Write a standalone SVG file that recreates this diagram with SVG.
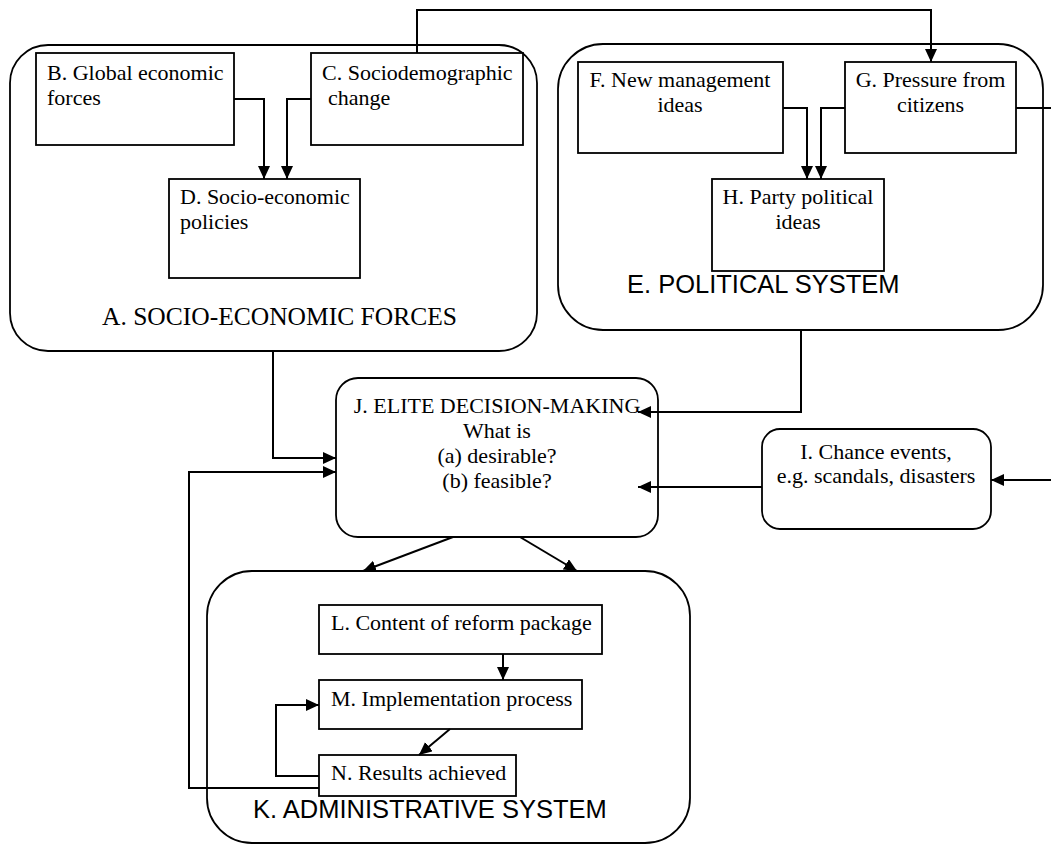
<svg xmlns="http://www.w3.org/2000/svg" width="1051" height="845" viewBox="0 0 1051 845">
<style>
.box{fill:#fff;stroke:#000;stroke-width:1.8}
.t{font-family:"Liberation Serif","Times New Roman",serif;font-size:22px;fill:#000}
.c{text-anchor:middle}
.lbl{font-family:"Liberation Sans",Arial,sans-serif;font-size:25.5px;fill:#000}
.lbls{font-family:"Liberation Serif","Times New Roman",serif;font-size:25.5px;fill:#000}
.con path{fill:none;stroke:#000;stroke-width:2}
.arr{marker-end:url(#ah)}
</style>
<defs>
<marker id="ah" markerUnits="userSpaceOnUse" markerWidth="14" markerHeight="13" refX="13" refY="6" orient="auto">
<path d="M0,0 L13,6 L0,12 z" fill="#000"/>
</marker>
</defs>
<rect width="1051" height="845" fill="#fff"/>
<g id="A">
<rect class="box" x="10" y="45" width="527" height="306" rx="38"/>
<text class="lbls" x="102" y="325">A. SOCIO-ECONOMIC FORCES</text>
</g>
<g id="E">
<rect class="box" x="558" y="44" width="485" height="286" rx="45"/>
<text class="lbl" x="627" y="293">E. POLITICAL SYSTEM</text>
</g>
<g id="K">
<rect class="box" x="207" y="571" width="483" height="272" rx="45"/>
<text class="lbl" x="253" y="818">K. ADMINISTRATIVE SYSTEM</text>
</g>
<g id="B">
<rect class="box" x="36" y="53" width="198" height="92"/>
<text class="t" x="47" y="80">B. Global economic</text>
<text class="t" x="47" y="105">forces</text>
</g>
<g id="C">
<rect class="box" x="311" y="53" width="212" height="92"/>
<text class="t" x="322" y="80">C. Sociodemographic</text>
<text class="t" x="328" y="105">change</text>
</g>
<g id="D">
<rect class="box" x="169" y="179" width="191" height="99"/>
<text class="t" x="180" y="204">D. Socio-economic</text>
<text class="t" x="180" y="229">policies</text>
</g>
<g id="F">
<rect class="box" x="578" y="62" width="205" height="91"/>
<text class="t c" x="680" y="87">F. New management</text>
<text class="t c" x="680" y="112">ideas</text>
</g>
<g id="G">
<rect class="box" x="845" y="62" width="171" height="91"/>
<text class="t c" x="930.5" y="87">G. Pressure from</text>
<text class="t c" x="930.5" y="112">citizens</text>
</g>
<g id="H">
<rect class="box" x="712" y="179" width="172" height="92"/>
<text class="t c" x="798" y="204">H. Party political</text>
<text class="t c" x="798" y="229">ideas</text>
</g>
<g id="J">
<rect class="box" x="336" y="378" width="322" height="159" rx="22"/>
<text class="t c" x="497" y="413">J. ELITE DECISION-MAKING</text>
<text class="t c" x="497" y="438">What is</text>
<text class="t c" x="497" y="463">(a) desirable?</text>
<text class="t c" x="497" y="488">(b) feasible?</text>
</g>
<g id="I">
<rect class="box" x="762" y="429" width="229" height="100" rx="18"/>
<text class="t c" x="876" y="459">I. Chance events,</text>
<text class="t c" x="876" y="483">e.g. scandals, disasters</text>
</g>
<g id="L">
<rect class="box" x="319" y="605" width="283" height="49"/>
<text class="t" x="331" y="630">L. Content of reform package</text>
</g>
<g id="M">
<rect class="box" x="319" y="680" width="263" height="49"/>
<text class="t" x="331" y="706">M. Implementation process</text>
</g>
<g id="N">
<rect class="box" x="319" y="755" width="197" height="41"/>
<text class="t" x="331" y="780">N. Results achieved</text>
</g>
<g id="connectors" class="con">
<path class="arr" d="M417,53 V10 H931 V62"/>
<path class="arr" d="M234,99 H264 V179"/>
<path class="arr" d="M311,99 H287 V179"/>
<path class="arr" d="M783,108 H807 V179"/>
<path class="arr" d="M845,108 H821 V179"/>
<path d="M1016,108 H1051"/>
<path class="arr" d="M1051,480 H991"/>
<path class="arr" d="M273,351 V458 H336"/>
<path class="arr" d="M801,330 V412 H638"/>
<path class="arr" d="M762,487 H638"/>
<path class="arr" d="M453,537 L363,571"/>
<path class="arr" d="M520,537 L577,571"/>
<path class="arr" d="M503,654 V680"/>
<path class="arr" d="M450,729 L419,755"/>
<path class="arr" d="M319,776 H276 V705 H319"/>
<path class="arr" d="M319,788 H189 V472 H336"/>
</g>
</svg>
